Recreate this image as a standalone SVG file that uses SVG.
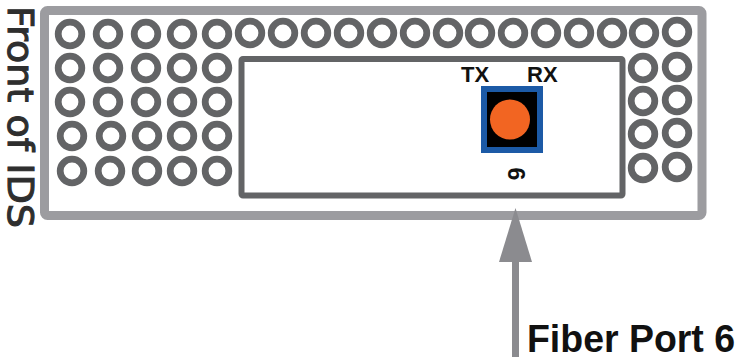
<svg xmlns="http://www.w3.org/2000/svg" width="737" height="359" viewBox="0 0 737 359">
<defs>
<style>
.ring{fill:none;stroke:#636466;stroke-width:6.8}
.lbl{font-family:"Liberation Sans",Arial,sans-serif;font-weight:bold;fill:#111}
</style>
</defs>
<rect width="737" height="359" fill="#fff"/>
<g id="front-label">
<text transform="translate(8,6) rotate(90)" font-family="DejaVu Sans, sans-serif" font-size="36" fill="#2e2e2e" stroke="#2e2e2e" stroke-width="1.1" textLength="222" lengthAdjust="spacingAndGlyphs">Front of IDS</text>
</g>
<g id="ids-chassis">
<rect x="44.5" y="10.5" width="657.5" height="205" rx="3" fill="none" stroke="#9c9ca0" stroke-width="9"/>
</g>
<g id="vents">
<g id="top-row">
<circle class="ring" cx="70" cy="34" r="11.8"/><circle class="ring" cx="108" cy="34" r="11.8"/><circle class="ring" cx="146" cy="34" r="11.8"/><circle class="ring" cx="182" cy="34" r="11.8"/><circle class="ring" cx="217" cy="34" r="11.8"/>
<circle class="ring" cx="250" cy="33" r="11.8"/><circle class="ring" cx="283" cy="33" r="11.8"/><circle class="ring" cx="316" cy="33" r="11.8"/><circle class="ring" cx="349" cy="33" r="11.8"/><circle class="ring" cx="382" cy="33" r="11.8"/><circle class="ring" cx="415" cy="33" r="11.8"/><circle class="ring" cx="448" cy="33" r="11.8"/><circle class="ring" cx="480" cy="33" r="11.8"/><circle class="ring" cx="513" cy="33" r="11.8"/><circle class="ring" cx="546" cy="33" r="11.8"/><circle class="ring" cx="579" cy="33" r="11.8"/><circle class="ring" cx="612" cy="33" r="11.8"/><circle class="ring" cx="644" cy="33" r="11.8"/><circle class="ring" cx="677" cy="32" r="11.8"/>
</g>
<g id="left-block">
<circle class="ring" cx="70" cy="68" r="11.8"/><circle class="ring" cx="108" cy="68" r="11.8"/><circle class="ring" cx="146" cy="68" r="11.8"/><circle class="ring" cx="182" cy="68" r="11.8"/><circle class="ring" cx="217" cy="68" r="11.8"/>
<circle class="ring" cx="70" cy="102" r="11.8"/><circle class="ring" cx="108" cy="102" r="11.8"/><circle class="ring" cx="146" cy="102" r="11.8"/><circle class="ring" cx="182" cy="102" r="11.8"/><circle class="ring" cx="217" cy="102" r="11.8"/>
<circle class="ring" cx="72" cy="136" r="11.8"/><circle class="ring" cx="111" cy="136" r="11.8"/><circle class="ring" cx="147" cy="136" r="11.8"/><circle class="ring" cx="182" cy="136" r="11.8"/><circle class="ring" cx="217" cy="136" r="11.8"/>
<circle class="ring" cx="72" cy="171" r="11.8"/><circle class="ring" cx="110" cy="171" r="11.8"/><circle class="ring" cx="147" cy="171" r="11.8"/><circle class="ring" cx="182" cy="171" r="11.8"/><circle class="ring" cx="217" cy="171" r="11.8"/>
</g>
<g id="right-block">
<circle class="ring" cx="643" cy="68" r="11.8"/><circle class="ring" cx="677" cy="67" r="11.8"/>
<circle class="ring" cx="643" cy="101" r="11.8"/><circle class="ring" cx="677" cy="100" r="11.8"/>
<circle class="ring" cx="643" cy="134" r="11.8"/><circle class="ring" cx="677" cy="133" r="11.8"/>
<circle class="ring" cx="643" cy="168" r="11.8"/><circle class="ring" cx="677" cy="167" r="11.8"/>
</g>
</g>
<g id="module">
<rect x="241.5" y="59" width="381" height="136.5" rx="1.5" fill="#fff" stroke="#636466" stroke-width="6"/>
</g>
<g id="fiber-port-6">
<rect x="484" y="89" width="56" height="61" fill="#000" stroke="#1c5aa6" stroke-width="6"/>
<circle cx="510" cy="119.5" r="20" fill="#f26522"/>
<text class="lbl" x="461" y="82" font-size="22">TX</text>
<text class="lbl" x="527" y="82" font-size="22">RX</text>
<text class="lbl" transform="translate(508,174) rotate(90)" font-size="23" text-anchor="middle">6</text>
</g>
<g id="connectors">
<line x1="515.5" y1="357" x2="515.5" y2="258" stroke="#8b8b8f" stroke-width="7"/>
<polygon points="515.5,208 532,262 499,262" fill="#8b8b8f"/>
</g>
<g id="callout">
<text class="lbl" x="527" y="352" font-size="38" textLength="208" lengthAdjust="spacingAndGlyphs">Fiber Port 6</text>
</g>
</svg>
